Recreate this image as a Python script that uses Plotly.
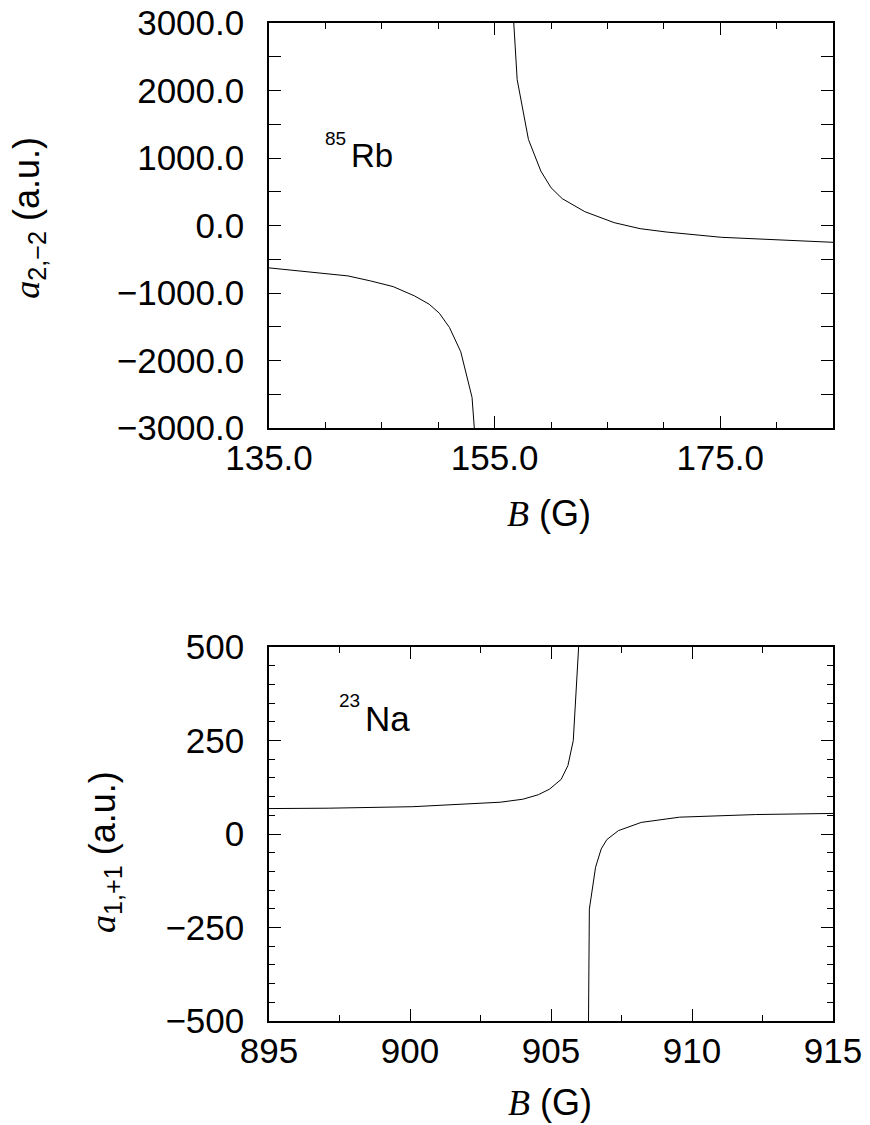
import plotly.graph_objects as go

# ---- data: 85Rb, a_{2,-2} vs B ----
rb_B_low = [135.0, 142.0, 144.0, 146.0, 147.9, 149.2, 150.1, 151.0, 152.0, 153.0, 153.2]
rb_a_low = [-628, -747, -821, -905, -1043, -1166, -1299, -1511, -1871, -2546, -3000]
rb_B_high = [156.7, 157.0, 158.0, 159.1, 160.0, 161.0, 163.0, 165.6, 167.9, 170.2, 175.1, 180.0, 185.0]
rb_a_high = [3000, 2162, 1275, 806, 560, 397, 205, 42, -47, -96, -175, -214, -249]

# ---- data: 23Na, a_{1,+1} vs B ----
na_B_left = [895.0, 897.1, 900.1, 902.1, 903.2, 904.0, 904.55, 904.95, 905.36, 905.6, 905.79, 905.98]
na_a_left = [68, 69, 73, 80, 85, 93, 105, 120, 146, 183, 250, 500]
na_B_right = [906.33, 906.36, 906.58, 906.78, 906.98, 907.39, 908.2, 909.56, 912.26, 915.0]
na_a_right = [-500, -201, -89, -40, -15, 9, 31, 45, 52, 55]

# ---- tick labels ----
rb_x_ticks = [135, 155, 175]
rb_x_text = ["135.0", "155.0", "175.0"]
rb_y_ticks = [-3000, -2000, -1000, 0, 1000, 2000, 3000]
rb_y_text = ["\u22123000.0", "\u22122000.0", "\u22121000.0", "0.0", "1000.0", "2000.0", "3000.0"]
na_x_ticks = [895, 900, 905, 910, 915]
na_x_text = ["895", "900", "905", "910", "915"]
na_y_ticks = [-500, -250, 0, 250, 500]
na_y_text = ["\u2212500", "\u2212250", "0", "250", "500"]

SANS = "Liberation Sans, Arial, Helvetica, sans-serif"
SERIF = "Liberation Serif, Times New Roman, serif"
TICKFONT = dict(family=SANS, size=35, color="black")

fig = go.Figure()
line = dict(color="black", width=1)
fig.add_trace(go.Scatter(x=rb_B_low, y=rb_a_low, mode="lines", line=line, xaxis="x", yaxis="y"))
fig.add_trace(go.Scatter(x=rb_B_high, y=rb_a_high, mode="lines", line=line, xaxis="x", yaxis="y"))
fig.add_trace(go.Scatter(x=na_B_left, y=na_a_left, mode="lines", line=line, xaxis="x2", yaxis="y2"))
fig.add_trace(go.Scatter(x=na_B_right, y=na_a_right, mode="lines", line=line, xaxis="x2", yaxis="y2"))

common = dict(showgrid=False, zeroline=False, showline=True, linecolor="black", linewidth=1.5,
              mirror="allticks", ticks="inside", tickcolor="black", tickwidth=1.2,
              tickfont=TICKFONT, automargin=False, ticklabeloverflow="allow")
xcommon = dict(common, ticklabelstandoff=-2)
ycommon = dict(common, ticklabelstandoff=16)

def minor(dt, t0, ln):
    return dict(dtick=dt, tick0=t0, ticks="inside", ticklen=ln, tickcolor="black", tickwidth=1.2)

top_dom = [(1013 - 420) / 998, 1.0]
bot_dom = [0.0, (1013 - 639) / 998]

# page body adds an 8 px offset, so the figure is 8 px smaller than the window
fig.update_layout(
    width=862, height=1117,
    margin=dict(l=261, r=37, t=15, b=104),
    paper_bgcolor="white", plot_bgcolor="white",
    showlegend=False,
    xaxis=dict(domain=[0, 1], anchor="y", range=[135, 185], tickmode="array",
               tickvals=rb_x_ticks, ticktext=rb_x_text, ticklen=12,
               minor=minor(5, 135, 6), **xcommon),
    yaxis=dict(domain=top_dom, anchor="x", range=[-3000, 3000], tickmode="array",
               tickvals=rb_y_ticks, ticktext=rb_y_text, ticklen=12,
               minor=minor(500, -3000, 12), **ycommon),
    xaxis2=dict(domain=[0, 1], anchor="y2", range=[895, 915], tickmode="array",
                tickvals=na_x_ticks, ticktext=na_x_text, ticklen=12,
                minor=minor(2.5, 895, 6), **xcommon),
    yaxis2=dict(domain=bot_dom, anchor="x2", range=[-500, 500], tickmode="array",
                tickvals=na_y_ticks, ticktext=na_y_text, ticklen=12,
                minor=minor(50, -500, 6), **ycommon),
)

def ann(text, x, y, xref, yref, size, xanchor="center", yanchor="middle", angle=0, family=SANS):
    fig.add_annotation(text=text, x=x, y=y, xref=xref, yref=yref, showarrow=False,
                       xanchor=xanchor, yanchor=yanchor, textangle=angle,
                       font=dict(family=family, size=size, color="black"))

ITAL = '<span style="font-family:Liberation Serif, Times New Roman, serif"><i>%s</i></span>'
B_title = ITAL % "B" + " (G)"
# x titles
ann(B_title, 0.4965, -0.212, "x domain", "y domain", 36)
ann(B_title, 0.498, -0.2166, "x2 domain", "y2 domain", 36)
# y titles
ann(ITAL % "a" + "<sub>2,\u22122</sub> (a.u.)", -0.425, 0.52, "x domain", "y domain", 36, angle=-90)
ann(ITAL % "a" + "<sub>1,+1</sub> (a.u.)", -0.2917, 0.453, "x2 domain", "y2 domain", 36, angle=-90)
# isotope labels
ann("Rb", 0.1424, 0.674, "x domain", "y domain", 33, xanchor="left")
ann("85", 0.0952, 0.714, "x domain", "y domain", 19, xanchor="left")
ann("Na", 0.167, 0.81, "x2 domain", "y2 domain", 35, xanchor="left")
ann("23", 0.120, 0.856, "x2 domain", "y2 domain", 19, xanchor="left")

fig.write_html("out.html")
